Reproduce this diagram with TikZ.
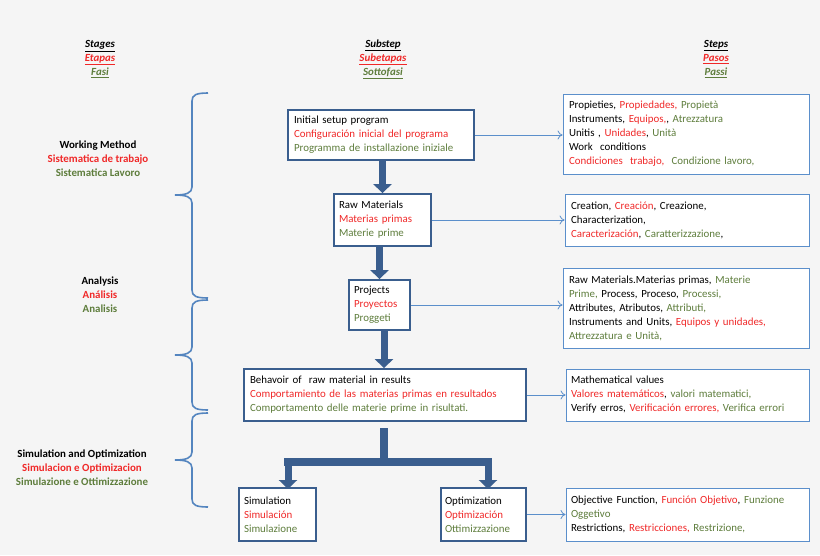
\documentclass[tikz,border=0pt]{standalone}
\usepackage{fontspec}
\setmainfont{Carlito}
\usetikzlibrary{arrows.meta}
\definecolor{rd}{HTML}{F02828}
\definecolor{gr}{HTML}{5E7D3C}
\definecolor{dk}{HTML}{3A5E8E}
\definecolor{lb}{HTML}{5B8FCB}
\definecolor{bg}{HTML}{F5F5F5}
\begin{document}
\begin{tikzpicture}[x=1pt,y=-1pt,
  every node/.style={font=\fontsize{10.9}{14}\selectfont},
  mbox/.style={draw=dk,line width=1.8pt,fill=white,inner sep=0pt,align=left},
  rbox/.style={draw=lb,line width=0.9pt,fill=white,inner sep=0pt,align=left},
  thin/.style={draw=lb,line width=0.8pt,-{To[length=5pt,width=9pt]}},
  thick/.style={draw=dk,line width=7pt,-{Triangle[length=9pt,width=18pt]}},
  hdr/.style={font=\fontsize{10.9}{14}\selectfont\bfseries\itshape,align=center},
  lbl/.style={font=\fontsize{10.9}{14}\selectfont\bfseries,align=center},
  brc/.style={draw=lb!80!dk,line width=1.6pt}]
\fill[bg] (0,0) rectangle (820,555);
\useasboundingbox (0,0) rectangle (820,555);
% headers
\node[hdr] (h1) at (100,59) {\underline{Stages}\\\textcolor{rd}{\underline{Etapas}}\\\textcolor{gr}{\underline{Fasi}}};
\node[hdr] (h2) at (383,59) {\underline{Substep}\\\textcolor{rd}{\underline{Subetapas}}\\\textcolor{gr}{\underline{Sottofasi}}};
\node[hdr] (h3) at (716,59) {\underline{Steps}\\\textcolor{rd}{\underline{Pasos}}\\\textcolor{gr}{\underline{Passi}}};
% left labels
\node[lbl] (l1) at (98,159) {Working Method\\\textcolor{rd}{Sistematica de trabajo}\\\textcolor{gr}{Sistematica Lavoro}};
\node[lbl] (l2) at (100,295) {Analysis\\\textcolor{rd}{Análisis}\\\textcolor{gr}{Analisis}};
\node[lbl] (l3) at (82,468) {Simulation and Optimization\\\textcolor{rd}{Simulacion e Optimizacion}\\\textcolor{gr}{Simulazione e Ottimizzazione}};
% braces
\foreach \a/\t/\b in {93/195/298, 300/355/410, 413/460/507}{
  \draw[brc] (208,\a) .. controls (196,\a) and (192,\a+2) .. (192,\a+8)
     -- (192,\t-8) .. controls (192,\t-2) and (186,\t) .. (175,\t)
     .. controls (186,\t) and (192,\t+2) .. (192,\t+8)
     -- (192,\b-8) .. controls (192,\b-2) and (196,\b) .. (208,\b);
}
% main boxes
\node[mbox,minimum width=186,minimum height=50,text width=174] (m1) at (381,135)
 {Initial setup program\\\textcolor{rd}{Configuración inicial del programa}\\\textcolor{gr}{Programma de installazione iniziale}};
\node[mbox,minimum width=97,minimum height=52,text width=87] (m2) at (382.5,220)
 {Raw Materials\\\textcolor{rd}{Materias primas}\\\textcolor{gr}{Materie prime}};
\node[mbox,minimum width=61,minimum height=50,text width=51] (m3) at (379.5,305)
 {Projects\\\textcolor{rd}{Proyectos}\\\textcolor{gr}{Proggeti}};
\node[mbox,minimum width=282,minimum height=52,text width=270] (m4) at (385,395)
 {Behavoir of\ \ raw material in results\\\textcolor{rd}{Comportamiento de las materias primas en resultados}\\\textcolor{gr}{Comportamento delle materie prime in risultati.}};
\node[mbox,minimum width=77,minimum height=53,text width=67] (m5) at (277.5,514.5)
 {Simulation\\\textcolor{rd}{Simulación}\\\textcolor{gr}{Simulazione}};
\node[mbox,minimum width=85,minimum height=53,text width=77] (m6) at (483.5,514.5)
 {Optimization\\\textcolor{rd}{Optimización}\\\textcolor{gr}{Ottimizzazione}};
% right boxes
\node[rbox,minimum width=246,minimum height=80,text width=234] (r1) at (686,134)
 {Propieties, \textcolor{rd}{Propiedades,} \textcolor{gr}{Propietà}\\Instruments, \textcolor{rd}{Equipos,}, \textcolor{gr}{Atrezzatura}\\Unitis , \textcolor{rd}{Unidades}, \textcolor{gr}{Unità}\\Work\ \ conditions\\\textcolor{rd}{Condiciones\ \ trabajo,}\ \ \textcolor{gr}{Condizione lavoro,}};
\node[rbox,minimum width=244,minimum height=52,text width=232] (r2) at (687,220)
 {Creation, \textcolor{rd}{Creación}, Creazione,\\Characterization,\\\textcolor{rd}{Caracterización}, \textcolor{gr}{Caratterizzazione},};
\node[rbox,minimum width=246,minimum height=80,text width=234] (r3) at (686,308)
 {Raw Materials.Materias primas, \textcolor{gr}{Materie}\\\textcolor{gr}{Prime,} Process, Proceso, \textcolor{gr}{Processi,}\\Attributes, Atributos, \textcolor{gr}{Attributi,}\\Instruments and Units, \textcolor{rd}{Equipos y unidades,}\\\textcolor{gr}{Attrezzatura e Unità,}};
\node[rbox,minimum width=243,minimum height=52,text width=233] (r4) at (687.5,395)
 {Mathematical values\\\textcolor{rd}{Valores matemáticos}, \textcolor{gr}{valori matematici,}\\Verify erros, \textcolor{rd}{Verificación errores,}\ \textcolor{gr}{Verifica errori}};
\node[rbox,minimum width=243,minimum height=53,text width=233] (r5) at (687.5,514.5)
 {Objective Function, \textcolor{rd}{Función Objetivo}, \textcolor{gr}{Funzione}\\\textcolor{gr}{Oggetivo}\\Restrictions, \textcolor{rd}{Restricciones,} \textcolor{gr}{Restrizione,}};
% thin arrows
\draw[thin] (m1.east) -- (r1.west |- m1.east);
\draw[thin] (m2.east) -- (r2.west |- m2.east);
\draw[thin] (m3.east) -- (r3.west |- m3.east);
\draw[thin] (m4.east) -- (r4.west |- m4.east);
\draw[thin] (m6.east) -- (r5.west |- m6.east);
% thick arrows
\draw[thick] (m1.south -| m2) -- (m2.north);
\draw[thick] (m2.south -| m3) -- (m3.north);
\draw[thick] (m3.south) ++(4.5,0) coordinate (t3) -- (t3 |- m4.north);
\fill[dk] (380,428) rectangle (388,462);
\fill[dk] (284,458) rectangle (492,466);
\draw[thick] (288,462) -- (288,489) ;
\draw[thick] (488,462) -- (488,489);
\end{tikzpicture}
\end{document}
